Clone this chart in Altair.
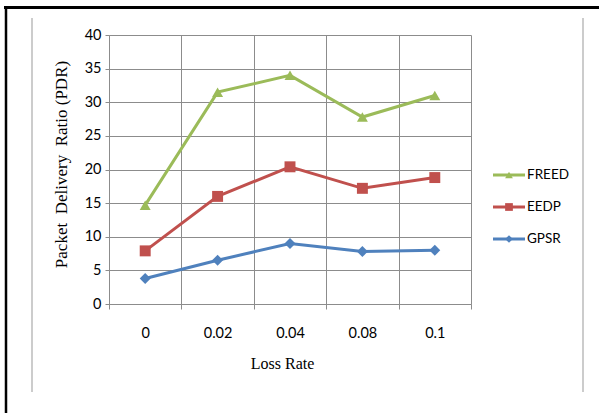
import altair as alt
import pandas as pd

# Loss rates on the x axis and packet delivery ratio per routing protocol
loss_rates = ["0", "0.02", "0.04", "0.08", "0.1"]
series_names = ["FREED", "EEDP", "GPSR"]
freed = [14.7, 31.5, 34.0, 27.8, 31.0]
eedp = [7.9, 16.0, 20.4, 17.2, 18.8]
gpsr = [3.8, 6.5, 9.0, 7.8, 8.0]
colors = ["#9BBB59", "#C0504D", "#4F81BD"]
shapes = ["triangle-up", "square", "diamond"]

rows = []
for name, vals in zip(series_names, [freed, eedp, gpsr]):
    for lr, v in zip(loss_rates, vals):
        rows.append({"loss": lr, "series": name, "pdr": v})
df = pd.DataFrame(rows)

legend_df = pd.DataFrame({"series": series_names, "row": [0, 1, 2]})
one = pd.DataFrame({"k": [0]})

W, H = 362, 269
GRID = "#8c8c8c"
NB = "\u00a0"

color_enc = alt.Color("series:N", scale=alt.Scale(domain=series_names, range=colors), legend=None)
shape_enc = alt.Shape("series:N", scale=alt.Scale(domain=series_names, range=shapes), legend=None)

x_enc = alt.X(
    "loss:N",
    sort=loss_rates,
    scale=alt.Scale(type="band", paddingInner=0, paddingOuter=0, domain=loss_rates),
    axis=alt.Axis(
        title="Loss Rate",
        labelAngle=0,
        tickBand="extent",
        grid=True,
        gridColor=GRID,
        tickColor=GRID,
        domainColor=GRID,
        tickSize=5,
        labelPadding=17,
        titleX=173,
        titleY=59,
        titleBaseline="middle",
        titleFont="Liberation Serif",
        titleFontSize=16,
        titleFontWeight="normal",
    ),
)
y_enc = alt.Y(
    "pdr:Q",
    scale=alt.Scale(domain=[0, 40], nice=False),
    axis=alt.Axis(
        title=f"Packet {NB}Delivery {NB}Ratio (PDR)",
        values=[0, 5, 10, 15, 20, 25, 30, 35, 40],
        grid=True,
        gridColor=GRID,
        tickColor=GRID,
        domainColor=GRID,
        tickSize=4,
        labelPadding=4,
        titleX=-48,
        titleY=129,
        titleAngle=-90,
        titleBaseline="middle",
        titleFont="Liberation Serif",
        titleFontSize=17,
        titleFontWeight="normal",
    ),
)

lines = alt.Chart(df).mark_line(strokeWidth=3).encode(
    x=x_enc, y=y_enc, color=color_enc, detail="series:N"
)
points = alt.Chart(df).mark_point(filled=True, opacity=1, size=120).encode(
    x=x_enc, y=y_enc, color=color_enc, shape=shape_enc
)
plot = alt.layer(lines, points)

# Legend drawn as its own small layer: line sample, marker, name
leg_y = alt.Y("row:Q", scale=alt.Scale(domain=[0, 2], range=[140, 204]), axis=None)
leg_line = alt.Chart(legend_df).mark_rule(strokeWidth=3).encode(
    x=alt.value(384), x2=alt.value(416), y=leg_y, color=color_enc
)
leg_pts = alt.Chart(legend_df).mark_point(filled=True, opacity=1, size=60).encode(
    x=alt.value(400), y=leg_y, color=color_enc, shape=shape_enc
)
leg_text = alt.Chart(legend_df).mark_text(
    align="left", baseline="middle", font="Lato", fontSize=13.5, color="black"
).encode(x=alt.value(418), y=leg_y, text="series:N")
legend = alt.layer(leg_line, leg_pts, leg_text)

# Page frame and side rules
frame_top = alt.Chart(one).mark_rule(color="black", strokeWidth=3).encode(
    x=alt.value(-105), x2=alt.value(490), y=alt.value(-27.5)
)
frame_left = alt.Chart(one).mark_rule(color="black", strokeWidth=2.5).encode(
    x=alt.value(-103), y=alt.value(-29), y2=alt.value(378)
)
side_left = alt.Chart(one).mark_rule(color="#aaaaaa", strokeWidth=1.2).encode(
    x=alt.value(-77), y=alt.value(-17), y2=alt.value(357)
)
side_right = alt.Chart(one).mark_rule(color="#aaaaaa", strokeWidth=1.2).encode(
    x=alt.value(474), y=alt.value(-17), y2=alt.value(357)
)
frame = alt.layer(frame_top, frame_left, side_left, side_right)

chart = (
    alt.layer(plot, legend, frame)
    .resolve_scale(y="independent")
    .properties(
        width=W,
        height=H,
        autosize=alt.AutoSizeParams(type="none"),
        padding={"left": 109, "top": 35, "right": 128, "bottom": 109},
        background="white",
    )
    .configure_view(stroke=None)
    .configure_axis(
        labelFont="Lato",
        labelFontSize=14.5,
        labelColor="black",
        titleColor="black",
    )
)

chart.save("out.html", embed_options={"renderer": "svg", "actions": False})
